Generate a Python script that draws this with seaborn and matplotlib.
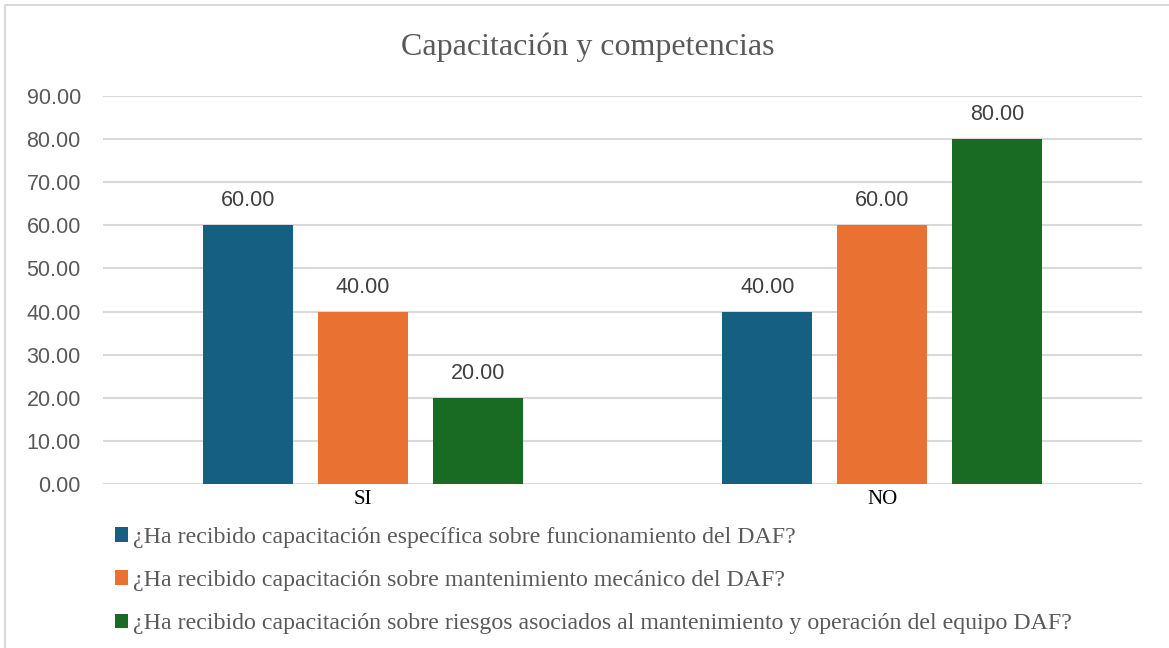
import pandas as pd
import seaborn as sns
import matplotlib.pyplot as plt
from matplotlib.patches import Rectangle, Patch

# data
categories = ["SI", "NO"]
series = [
    "¿Ha recibido capacitación específica sobre funcionamiento del DAF?",
    "¿Ha recibido capacitación sobre mantenimiento mecánico del DAF?",
    "¿Ha recibido capacitación sobre riesgos asociados al mantenimiento y operación del equipo DAF?",
]
vals_funcionamiento = [60.0, 40.0]
vals_mecanico = [40.0, 60.0]
vals_riesgos = [20.0, 80.0]
colors = ["#156082", "#E97132", "#196B24"]

rows = []
for s, vals in zip(series, [vals_funcionamiento, vals_mecanico, vals_riesgos]):
    for c, v in zip(categories, vals):
        rows.append({"respuesta": c, "pregunta": s, "valor": v})
df = pd.DataFrame(rows)

sns.set_theme(style="white")
plt.rcParams["font.family"] = ["Liberation Sans", "DejaVu Sans"]

fig = plt.figure(figsize=(11.69, 6.48), dpi=100)
ax = fig.add_axes([0.0881, 0.2531, 0.8888, 0.5988])

sns.barplot(data=df, x="respuesta", y="valor", hue="pregunta", order=categories,
            hue_order=series, palette=colors, width=0.664, gap=0.217,
            saturation=1, linewidth=0, ax=ax, legend=False)

# bar value labels
for cont in ax.containers:
    ax.bar_label(cont, fmt="%.2f", padding=10, fontsize=15.5, color="#404040")

ax.set_ylim(0, 90)
ax.set_yticks(range(0, 91, 10))
ax.set_yticklabels([f"{v:.2f}" for v in range(0, 91, 10)], fontsize=15.5, color="#595959")
ax.set_xlim(-0.5, 1.5)
ax.set_xlabel("")
ax.set_ylabel("")
ax.tick_params(axis="x", labelsize=15, labelcolor="black", length=0, pad=4)
ax.tick_params(axis="y", length=0, pad=16)
for lab in ax.get_xticklabels():
    lab.set_family("Liberation Serif")

ax.yaxis.grid(True, color="#D9D9D9", linewidth=1.5)
ax.set_axisbelow(True)
for sp in ax.spines.values():
    sp.set_visible(False)

fig.text(0.503, 0.927, "Capacitación y competencias", ha="center", va="center",
         fontsize=23, color="#595959", family="Liberation Serif")

handles = [Patch(facecolor=c, edgecolor="none") for c in colors]
leg = fig.legend(handles, series, loc="upper left", bbox_to_anchor=(0.0984, 0.187),
                 frameon=False, handlelength=0.55, handleheight=0.55, handletextpad=0.2,
                 labelspacing=0.93, borderaxespad=0, borderpad=0,
                 prop={"family": "Liberation Serif", "size": 17.2})
for t in leg.get_texts():
    t.set_color("#595959")

# outer chart border
fig.patches.append(Rectangle((5 / 1169, -0.05), 1.2, 1 - 5 / 648 + 0.05,
                             transform=fig.transFigure, fill=False,
                             edgecolor="#D9D9D9", linewidth=1.5))

fig.savefig("out.png", dpi=100)
